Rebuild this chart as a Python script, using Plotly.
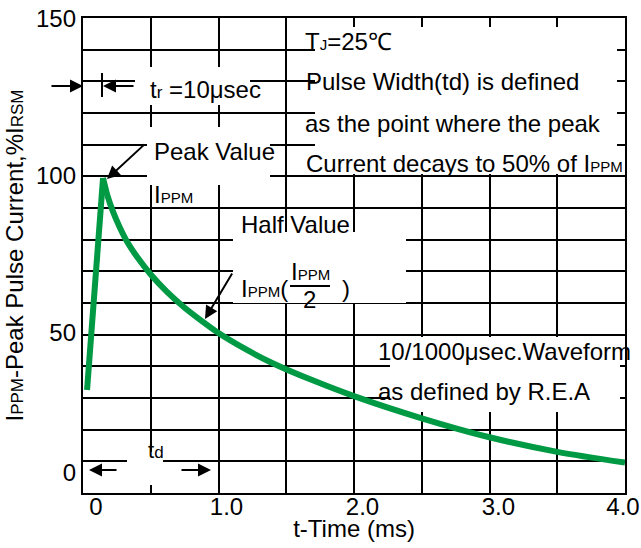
import plotly.graph_objects as go

# ---------------- data ----------------
rise_time_ms = [0.03, 0.148]
rise_current_pct = [32.5, 99.5]

decay_time_ms = [0.148, 0.18, 0.22, 0.27, 0.33, 0.40, 0.50, 0.62, 0.75, 0.88,
                 1.00, 1.20, 1.40, 1.70, 2.00, 2.50, 3.00, 3.50, 4.00]
decay_current_pct = [99.5, 94, 89, 84, 79, 74.5, 69, 63.5, 58.5, 54.2,
                     50.5, 45.4, 41, 35.5, 30.6, 23.6, 17.6, 13, 9.6]

x_tick_values = [0, 1, 2, 3, 4]
x_tick_labels = ["0", "1.0", "2.0", "3.0", "4.0"]
y_tick_values = [0, 50, 100, 150]
y_tick_labels = ["0", "50", "100", "150"]

# ---------------- geometry ----------------
W, H = 641, 548
L, R, T, B = 83, 16, 18, 55
X0, X1, XSTEP = 0.0, 4.0, 0.5
Y0, Y1, YSTEP = 0.0, 150.0, 10.0
PW, PH = W - L - R, H - T - B


def dx(px):
    return X0 + (px - L) / PW * (X1 - X0)


def dy(py):
    return Y0 + (H - B - py) / PH * (Y1 - Y0)


FONT = "Liberation Sans, Arial, Helvetica, sans-serif"
GREEN = "#009a44"
FS = 24


def sub(s, size=15):
    return f"<span style='font-size:{size}px'>{s}</span>"


# the printed labels sit slightly off their grid lines
x_label_nudge = [0.096, 0.059, 0.063, 0.066, -0.015]
y_label_nudge = [6.3, 0.5, 0.3, -0.3]

grid_x = [X0 + i * XSTEP for i in range(int(round((X1 - X0) / XSTEP)) + 1)]
grid_y = [Y0 + i * YSTEP for i in range(int(round((Y1 - Y0) / YSTEP)) + 1)]

fig = go.Figure()
fig.add_trace(go.Scatter(x=decay_time_ms, y=decay_current_pct, mode="lines",
                         line=dict(color=GREEN, width=6, shape="spline", smoothing=0.8),
                         hoverinfo="skip", showlegend=False))
# rise drawn on the (identical) label axes so those axes get rendered
fig.add_trace(go.Scatter(x=rise_time_ms, y=rise_current_pct, mode="lines",
                         xaxis="x2", yaxis="y2",
                         line=dict(color=GREEN, width=6), hoverinfo="skip",
                         showlegend=False))

# white boxes that blank the grid behind the call-out texts
boxes = [
    (135, 67, 250, 105),    # t_r
    (147, 127, 270, 185),   # Peak value
    (233, 232, 406, 303),   # Half value
    (390, 337, 620, 412),   # waveform note
    (127, 452, 163, 485),   # t_d
    (315, 27, 617, 174),    # top-right note
]
shapes = []
for x0, y0, x1, y1 in boxes:
    shapes.append(dict(type="rect", xref="x", yref="y", layer="between",
                       x0=dx(x0), x1=dx(x1), y0=dy(y1), y1=dy(y0),
                       fillcolor="white", line=dict(width=0)))
shapes.append(dict(type="line", xref="x", yref="y", x0=dx(102), x1=dx(102),
                   y0=dy(97), y1=dy(73), line=dict(color="black", width=2)))
shapes.append(dict(type="line", xref="x", yref="y", x0=dx(290), x1=dx(330),
                   y0=dy(286), y1=dy(286), line=dict(color="black", width=2)))


def txt(text, px, py_base, anchor="left", size=FS):
    # py_base is the text baseline in pixels
    return dict(x=dx(px), y=dy(py_base - 0.345 * size), xref="x", yref="y",
                text=text, showarrow=False, xanchor=anchor, yanchor="middle",
                font=dict(family=FONT, size=size, color="black"))


def arrow(tx, ty, hx, hy):
    return dict(x=dx(hx), y=dy(hy), ax=dx(tx), ay=dy(ty), xref="x", yref="y",
                axref="x", ayref="y", text="", showarrow=True, arrowhead=2,
                arrowsize=1.3, arrowwidth=2, arrowcolor="black", standoff=0)


annotations = [
    txt("T" + sub("J") + "=25℃", 303, 50),
    txt("Pulse Width(td) is defined", 304, 90),
    txt("as the point where the peak", 303, 132),
    txt("Current decays to 50% of I" + sub("PPM"), 304, 172),
    txt("t" + sub("r", 17) + " =10μsec", 148, 98),
    txt("Peak Value", 152, 160),
    txt("I" + sub("PPM"), 152, 203),
    txt("Half Value", 239, 233),
    txt("I" + sub("PPM") + "(", 239, 297),
    txt("I" + sub("PPM"), 289, 280),
    txt("2", 309, 308, anchor="center"),
    txt(")", 340, 297),
    txt("10/1000μsec.Waveform", 376, 360),
    txt("as defined by R.E.A", 376, 400),
    txt("t" + sub("d", 17), 146, 458, size=22),
    arrow(50, 86, 83, 86),
    arrow(135, 86, 103, 86),
    arrow(146, 143, 107, 179),
    arrow(233, 272, 205, 319),
    arrow(118, 470, 89, 470),
    arrow(180, 470, 211, 470),
    dict(x=(302 - L) / PW, y=(H - B - 542) / PH, xref="paper", yref="paper",
         text="Figure 2 Pulse Waveform", showarrow=False, xanchor="center",
         yanchor="top", font=dict(family=FONT, size=FS, color="black")),
]

tickfont = dict(family=FONT, size=FS, color="black")

fig.update_layout(
    width=W, height=H,
    margin=dict(l=L, r=R, t=T, b=B, autoexpand=False),
    paper_bgcolor="white", plot_bgcolor="white",
    showlegend=False,
    shapes=shapes,
    annotations=annotations,
    xaxis=dict(range=[X0, X1], tickvals=grid_x, showticklabels=False, ticks="",
               showgrid=True, gridcolor="black", gridwidth=2,
               showline=True, linecolor="black", linewidth=2, mirror=True,
               zeroline=False, automargin=False,
               title=dict(text="t-Time (ms)", standoff=26, font=tickfont)),
    yaxis=dict(range=[Y0, Y1], tickvals=grid_y, showticklabels=False, ticks="",
               showgrid=True, gridcolor="black", gridwidth=2,
               showline=True, linecolor="black", linewidth=2, mirror=True,
               zeroline=False, automargin=False,
               title=dict(text="I" + sub("PPM", 17) + "-Peak Pulse Current,%I" + sub("RSM", 17),
                          standoff=51, font=tickfont)),
    xaxis2=dict(range=[X0, X1], overlaying="x", anchor="y", side="bottom",
                tickvals=[v + n for v, n in zip(x_tick_values, x_label_nudge)],
                ticktext=x_tick_labels, ticks="", showgrid=False, showline=False,
                zeroline=False, tickfont=tickfont, ticklabelstandoff=-3,
                ticklabeloverflow="allow", automargin=False),
    yaxis2=dict(range=[Y0, Y1], overlaying="y", anchor="x", side="left",
                tickvals=[v + n for v, n in zip(y_tick_values, y_label_nudge)],
                ticktext=y_tick_labels, ticks="", showgrid=False, showline=False,
                zeroline=False, tickfont=tickfont, ticklabelstandoff=6,
                automargin=False),
)

fig.write_html("out.html")
